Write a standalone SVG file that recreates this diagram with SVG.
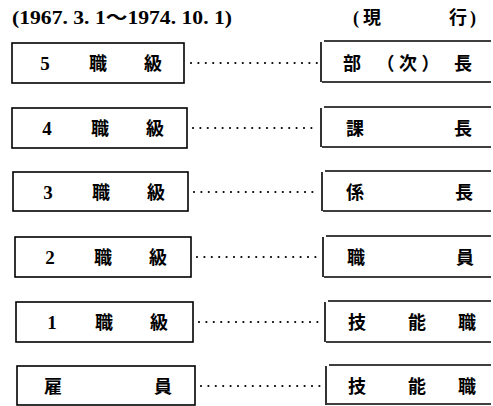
<svg xmlns="http://www.w3.org/2000/svg" width="493" height="406" viewBox="0 0 493 406">
<style>
.bg{fill:#fff}
.box{fill:none;stroke:#000;stroke-width:1.6}
.ln{fill:none;stroke:#000;stroke-width:1.6}
.dot{fill:none;stroke:#000;stroke-width:2.2;stroke-linecap:round;stroke-dasharray:0 7.4}
.t{font-family:"Noto Sans CJK JP","Noto Sans CJK SC",sans-serif;font-weight:700;font-size:18px;fill:#000;text-anchor:middle}
.n{font-family:"Liberation Serif",serif;font-weight:700;font-size:19px;fill:#000;text-anchor:middle}
.h{font-family:"Liberation Serif","Noto Sans CJK JP",serif;font-weight:700;font-size:18px;fill:#000}
</style>
<rect class="bg" x="0" y="0" width="493" height="406"/>
<g id="title-left"><text class="h" x="12" y="24" textLength="220" lengthAdjust="spacingAndGlyphs">(1967. 3. 1～1974. 10. 1)</text></g>
<g id="title-right"><text class="h" x="353" y="24">(</text><text class="t" x="372" y="24">現</text><text class="t" x="458" y="24">行</text><text class="h" x="470" y="24">)</text></g>

<g id="connectors">
<line class="dot" x1="191" y1="63" x2="318" y2="63"/>
<line class="dot" x1="193" y1="128" x2="318" y2="128"/>
<line class="dot" x1="194" y1="192" x2="319" y2="192"/>
<line class="dot" x1="197" y1="257" x2="320" y2="257"/>
<line class="dot" x1="199" y1="322" x2="322" y2="322"/>
<line class="dot" x1="201" y1="386" x2="323" y2="386"/>
</g>

<g id="old5"><rect class="box" x="12" y="43" width="172" height="40"/><text class="n" x="45" y="70">5</text><text class="t" x="98" y="70">職</text><text class="t" x="153" y="70">級</text></g>
<g id="old4"><rect class="box" x="12" y="108" width="175" height="40"/><text class="n" x="47" y="135">4</text><text class="t" x="100" y="135">職</text><text class="t" x="155" y="135">級</text></g>
<g id="old3"><rect class="box" x="13" y="172" width="175" height="39"/><text class="n" x="48" y="199">3</text><text class="t" x="101" y="199">職</text><text class="t" x="156" y="199">級</text></g>
<g id="old2"><rect class="box" x="15" y="237" width="176" height="40"/><text class="n" x="50" y="264">2</text><text class="t" x="103" y="264">職</text><text class="t" x="158" y="264">級</text></g>
<g id="old1"><rect class="box" x="16" y="302" width="177" height="40"/><text class="n" x="52" y="329">1</text><text class="t" x="104" y="329">職</text><text class="t" x="159" y="329">級</text></g>
<g id="old0"><rect class="box" x="17" y="366" width="178" height="39"/><text class="t" x="53" y="393">雇</text><text class="t" x="163" y="393">員</text></g>

<g id="new5"><path class="ln" d="M321 42V82M324 41H491M322 82H491"/><text class="t" x="352" y="70">部</text><text class="t" x="408" y="70" textLength="63" lengthAdjust="spacing">（次）</text><text class="t" x="463" y="70">長</text></g>
<g id="new4"><path class="ln" d="M321 108V147M324 107H491M322 147H491"/><text class="t" x="355" y="135">課</text><text class="t" x="463" y="135">長</text></g>
<g id="new3"><path class="ln" d="M322 172V211M325 171H491M323 211H491"/><text class="t" x="355" y="199">係</text><text class="t" x="464" y="199">長</text></g>
<g id="new2"><path class="ln" d="M323 237V277M326 236H491M324 277H491"/><text class="t" x="356" y="264">職</text><text class="t" x="465" y="264">員</text></g>
<g id="new1"><path class="ln" d="M325 302V342M328 301H491M326 342H491"/><text class="t" x="357" y="329">技</text><text class="t" x="417" y="329">能</text><text class="t" x="467" y="329">職</text></g>
<g id="new0"><path class="ln" d="M326 366V405M329 365H491M327 404H491"/><text class="t" x="357" y="393">技</text><text class="t" x="417" y="393">能</text><text class="t" x="467" y="393">職</text></g>
</svg>
